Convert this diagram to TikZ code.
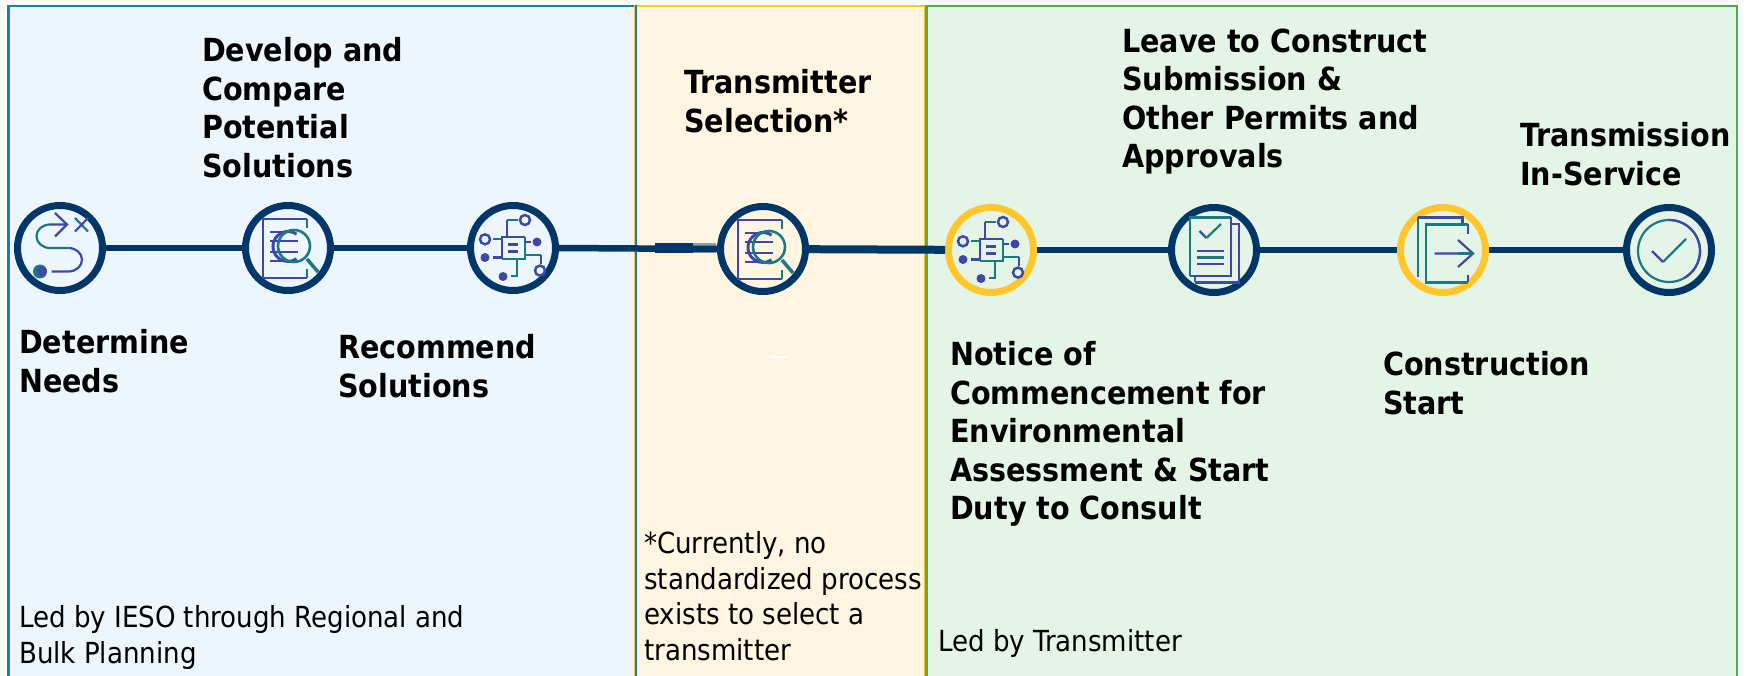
\documentclass[tikz,border=0pt]{standalone}
\usepackage{fontspec}
\setmainfont{DejaVu Sans Condensed}
\usepackage{tikz}
\definecolor{darknavy}{HTML}{003768}
\definecolor{amber}{HTML}{FFC72C}
\definecolor{tealline}{HTML}{1A7A82}
\definecolor{indigoline}{HTML}{3F48A8}
\definecolor{bluefill}{HTML}{EDF6FD}
\definecolor{blueedge}{HTML}{1680AE}
\definecolor{creamfill}{HTML}{FFF5E1}
\definecolor{greenfill}{HTML}{E4F5E8}
\definecolor{greenedge}{HTML}{4DB04F}
\tikzset{
  panelbox/.style={draw, line width=2.5pt, inner sep=0pt, anchor=north west},
  ringnode/.style={circle, draw=darknavy, line width=7pt, minimum size=85pt, inner sep=0pt},
  amberring/.style={ringnode, draw=amber},
  track/.style={draw=darknavy, line width=6.5pt},
  stage/.style={anchor=north west, align=left, inner sep=0pt, font=\fontsize{31.8}{38.4}\selectfont\bfseries},
  remark/.style={anchor=north west, align=left, inner sep=0pt, font=\fontsize{29}{35.5}\selectfont},
  teal/.style={draw=tealline, line width=2.2pt},
  indigo/.style={draw=indigoline, line width=2.2pt},
}
\newcommand\DocLens{%
\draw[indigo] (19,-29) -- (-25,-29) -- (-25,30) -- (19,30);
\draw[teal] (19,-29) -- (19,-20) (19,30) -- (19,21);
\draw[indigo, line width=2.6pt] (-18,-16) -- (-6,-16) (-18,-7) -- (10,-7) (-18,4) -- (10,4) (-18,13) -- (-6,13);
\draw[indigo, line width=3pt] (8.6,-13.8) arc (-55:-305:15);
\draw[teal, line width=2.6pt] (6,-2) circle (16);
\draw[teal, line width=3.5pt] (19,11) -- (30,24);}
\newcommand\ChipIcon{%
\draw[indigo] (-11,11.3) -- (-11,-11.3) -- (12,-11.3);
\draw[teal] (12,-11.3) -- (12,11.3) -- (-11,11.3);
\draw[indigo] (-5,-3.5) -- (5,-3.5) (-5,3.5) -- (5,3.5);
\draw[indigo] (-6,-11.3) -- (-6,-28);
\draw[teal] (-6,-28) -- (5,-28) (-20,-8.7) -- (-11,-8.7) (12,7) -- (28,7) (4,11.3) -- (4,28) -- (-2,28);
\draw[indigo] (-20,9.5) -- (-11,9.5) (12,-6) -- (18,-6) (28,7) -- (28,16.5);
\draw[indigo, line width=2.5pt] (12,-28) circle (5) (-28,-8.7) circle (5) (27,22.6) circle (5);
\fill[indigoline] (-28,9.5) circle (4.5) (24,-6) circle (4.5) (-10,28.5) circle (4.5);}

\begin{document}
\begin{tikzpicture}[x=1pt,y=-1pt]
\useasboundingbox (0,0) rectangle (1746,676);

\node[panelbox, draw=blueedge, fill=bluefill, minimum width=628pt, minimum height=690pt] (planning) at (7,5) {};
\node[panelbox, draw=amber, fill=creamfill, minimum width=290pt, minimum height=690pt] (selecting) at (634,5) {};
\draw[blueedge, line width=2pt] (635.5,5) -- (635.5,680);
\node[panelbox, draw=greenedge, fill=greenfill, minimum width=810.5pt, minimum height=690pt] (building) at (925,5) {};

% stages
\node[ringnode] (needs) at (60,248) {};
\node[ringnode] (develop) at (288,248) {};
\node[ringnode] (recommend) at (513,248) {};
\node[ringnode] (select) at (763,249) {};
\node[amberring] (notice) at (991,250) {};
\node[ringnode] (leave) at (1214,250) {};
\node[amberring] (start) at (1443,250) {};
\node[ringnode] (service) at (1669,250) {};

\coordinate (smudgeleft) at (655,248);
\coordinate (smudgemid) at (693,248);
\coordinate (smudgeright) at (716,248);
\draw[track] (needs) -- (develop);
\draw[track] (develop) -- (recommend);
\draw[track] (recommend.east) -- (select.west);
\draw[darknavy, opacity=.45, line width=10pt] (smudgemid) -- (smudgeright);
\draw[darknavy, line width=10pt] (smudgeleft) -- (smudgemid);
\draw[track, line width=8pt] (select) -- (notice);
\draw[track] (notice) -- (leave);
\draw[track] (leave) -- (start);
\draw[track] (start) -- (service);
\draw[white, line width=2pt] (770,357) -- (788,357);

% icons
\begin{scope}[shift={(needs.center)}]
\fill[tealline] (-20,23.5) circle (7);
\fill[indigoline] (-18,23.5) circle (5);
\draw[indigo] (-8.5,23.5) -- (8.5,23.5) arc (90:-90:13.5 and 11.75);
\draw[teal] (8.5,0) -- (-10,0) arc (90:270:13.5 and 11.75);
\draw[indigo] (-10,-23.5) -- (7,-23.5) (-5,-35) -- (7,-23.5) -- (-5,-11.5);
\draw[teal] (15,-30) -- (28,-16.5);
\draw[indigo] (28,-30) -- (15,-16.5);
\end{scope}
\begin{scope}[shift={(develop.center)}]
\DocLens
\end{scope}
\begin{scope}[shift={(recommend.center)}]
\ChipIcon
\end{scope}
\begin{scope}[shift={(select.center)}]
\DocLens
\end{scope}
\begin{scope}[shift={(notice.center)}]
\ChipIcon
\end{scope}
\begin{scope}[shift={(leave.center)}]
\draw[indigo] (17,-26) -- (25,-26) -- (25,32.5) -- (-19,32.5);
\draw[teal] (-19,32.5) -- (-19,26);
\draw[teal] (-24,26) -- (-24,-32.5) -- (17,-32.5);
\draw[indigo] (17,-32.5) -- (17,26) -- (-24,26);
\draw[indigo] (-14.5,-19) -- (-7.6,-12);
\draw[teal] (-7.6,-12) -- (7,-26);
\draw[indigo] (-17,1) -- (9.5,1) (-17,14) -- (9.5,14);
\draw[teal] (-17,7.5) -- (9.5,7.5);
\end{scope}
\begin{scope}[shift={(start.center)}]
\draw[teal] (-25,27) -- (-25,-32.5);
\draw[indigo] (-25,-32.5) -- (19.5,-32.5) -- (19.5,-26);
\draw[indigo] (25,-16) -- (25,-25.5);
\draw[teal] (25,-25.5) -- (-17,-25.5) -- (-17,32.5) -- (25,32.5);
\draw[indigo] (25,32.5) -- (25,25);
\draw[indigo] (-8.5,3.5) -- (15,3.5) (15,-10) -- (30,3.5) -- (15,17);
\draw[teal] (15,3.5) -- (30,3.5);
\end{scope}
\begin{scope}[shift={(service.center)}]
\draw[teal] (0,1) circle (31);
\draw[indigo] (0,-30) arc (-90:60:31);
\draw[indigo] (-17,1) -- (-6,12);
\draw[teal] (-6,12) -- (17,-11);
\end{scope}

% labels
\node[stage] (needslabel) at (19,329.5) {Determine\\Needs};
\node[stage] (developlabel) at (202,37.5) {Develop and\\Compare\\Potential\\Solutions};
\node[stage] (recommendlabel) at (338,334.5) {Recommend\\Solutions};
\node[stage] (selectlabel) at (684,69.5) {Transmitter\\Selection*};
\node[stage] (leavelabel) at (1122,28.5) {Leave to Construct\\Submission \&\\Other Permits and\\Approvals};
\node[stage] (servicelabel) at (1520,122.5) {Transmission\\In-Service};
\node[stage] (noticelabel) at (950,341.5) {Notice of\\Commencement for\\Environmental\\Assessment \& Start\\Duty to Consult};
\node[stage] (startlabel) at (1383,351.5) {Construction\\Start};

\node[remark] (planningnote) at (19,605.5) {Led by IESO through Regional and\\Bulk Planning};
\node[remark] (selectingnote) at (644,531.5) {*Currently, no\\standardized process\\exists to select a\\transmitter};
\node[remark] (buildingnote) at (938,629.5) {Led by Transmitter};
\end{tikzpicture}
\end{document}
